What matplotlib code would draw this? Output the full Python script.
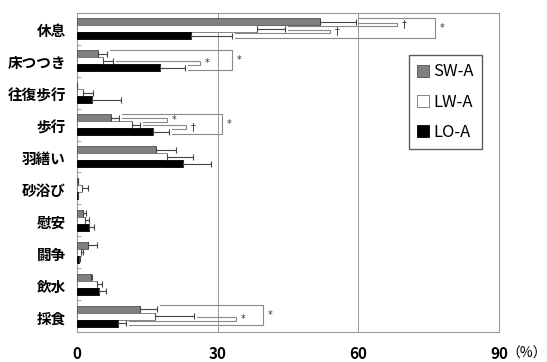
import numpy as np
import matplotlib.pyplot as plt
import matplotlib as mpl
from matplotlib.transforms import ScaledTranslation

mpl.rcParams['font.family'] = ['Noto Sans CJK JP', 'DejaVu Sans']

# 行動カテゴリ（上から順）
categorias = ['休息', '床つつき', '往復歩行', '歩行', '羽繕い',
              '砂浴び', '慰安', '闘争', '飲水', '採食']
series = ['SW-A', 'LW-A', 'LO-A']

# 平均値 (%)
sw_a = [51.9, 4.5, 0.0, 7.3, 16.9, 0.2, 1.3, 2.4, 3.0, 13.5]
lw_a = [38.4, 5.6, 1.3, 11.7, 19.2, 1.0, 1.7, 0.9, 4.3, 16.7]
lo_a = [24.3, 17.7, 3.2, 16.2, 22.6, 0.3, 2.6, 0.4, 4.7, 8.8]

# 誤差 (SE)
sw_err = [7.5, 1.9, 0.0, 1.7, 4.2, 0.0, 0.6, 1.9, 0.3, 3.6]
lw_err = [6.0, 2.1, 2.1, 1.8, 5.6, 1.3, 0.9, 0.4, 1.0, 8.3]
lo_err = [8.8, 5.4, 6.2, 3.4, 6.0, 0.0, 1.0, 0.2, 1.5, 1.7]

# 有意差 (グループ, 系列a, 系列b, ブラケット右端, 記号)
signif = [
    (0, 0, 1, 68.3, '†'),
    (0, 1, 2, 54.0, '†'),
    (0, 0, 2, 76.4, '*'),
    (1, 1, 2, 26.3, '*'),
    (1, 0, 2, 33.1, '*'),
    (3, 0, 1, 19.2, '*'),
    (3, 1, 2, 23.3, '†'),
    (3, 0, 2, 31.0, '*'),
    (9, 1, 2, 34.0, '*'),
    (9, 0, 2, 39.7, '*'),
]

valores = [sw_a, lw_a, lo_a]
errores = [sw_err, lw_err, lo_err]
colores = ['#808080', 'white', 'black']
bordes = ['#505050', '#707070', 'black']

fig = plt.figure(figsize=(5.47, 3.62), dpi=100)
ax = fig.add_axes([0.1408, 0.0829, 0.7714, 0.8812])

y = np.arange(len(categorias))
h = 0.22
offs = [-h, 0, h]
for k in range(3):
    ax.barh(y + offs[k], valores[k], height=h, color=colores[k],
            edgecolor=bordes[k], linewidth=0.6, label=series[k], zorder=3)
    ax.errorbar(valores[k], y + offs[k], xerr=[np.zeros(len(y)), errores[k]],
                fmt='none', ecolor='#444444', elinewidth=0.8, capsize=2.5,
                capthick=0.8, zorder=4)

# ブラケット
for g, a, b, xr, mark in signif:
    if b - a == 2:
        ya, yb = g + offs[a] - 0.12, g + offs[b] + 0.06
    else:
        ya, yb = g + offs[a] + 0.02, g + offs[b] - 0.08
    xa = valores[a][g] + errores[a][g] + 0.6
    xb = valores[b][g] + errores[b][g] + 0.6
    ax.plot([xa, xr, xr, xb], [ya, ya, yb, yb], color='#888888', lw=0.8,
            zorder=2, solid_joinstyle='miter')
    ax.text(xr + 1.0, (ya + yb) / 2, mark, fontsize=7, ha='left',
            va='center', color='#333333', family='DejaVu Sans')

ax.set_xlim(0, 90)
ax.set_ylim(len(categorias) - 0.5, -0.5)
for v in [30, 60]:
    ax.axvline(v, color='#999999', lw=0.7, zorder=1)

ax.set_yticks(y)
ax.set_yticklabels(categorias, fontsize=10.5, fontweight='bold')
ax.set_yticks(np.arange(len(categorias) + 1) - 0.5, minor=True)
ax.tick_params(axis='y', which='major', length=0, pad=8)
ax.tick_params(axis='y', which='minor', direction='in', length=3,
               color='#999999')
desplaza = ScaledTranslation(0, -0.01, fig.dpi_scale_trans)
for lab in ax.get_yticklabels():
    lab.set_transform(lab.get_transform() + desplaza)

ax.set_xticks([0, 30, 60, 90])
ax.set_xticklabels(['0', '30', '60', '90'], fontsize=11, fontweight='bold')
ax.tick_params(axis='x', length=0, pad=10)
fig.text(0.999, 0.022, '（%）', fontsize=10, ha='right', va='center')

for s in ax.spines.values():
    s.set_color('#999999')
    s.set_linewidth(0.8)

leg = ax.legend(loc='upper right', bbox_to_anchor=(0.96, 0.868), fontsize=12,
                frameon=True, fancybox=False, edgecolor='#333333',
                handlelength=0.72, handleheight=0.72, handletextpad=0.25,
                labelspacing=0.8, borderpad=0.5, borderaxespad=0)
leg.get_frame().set_linewidth(1.0)

plt.savefig('out.png', dpi=100)
